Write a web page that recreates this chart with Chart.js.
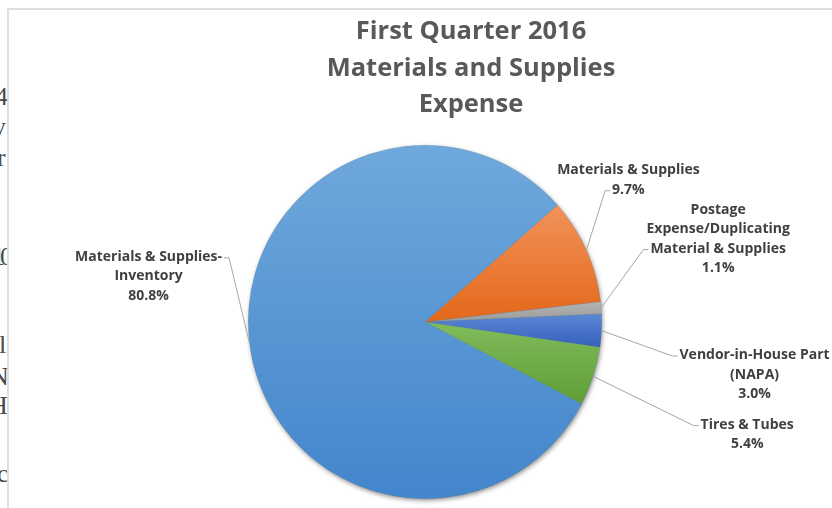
<!DOCTYPE html>
<html>
<head>
<meta charset="utf-8">
<title>First Quarter 2016 Materials and Supplies Expense</title>
<script src="https://cdn.jsdelivr.net/npm/chart.js@4.4.1/dist/chart.umd.min.js"></script>
<style>
html, body { margin: 0; padding: 0; background: #fff; }
body { width: 832px; height: 508px; position: relative; overflow: hidden; }
#docText { position: absolute; left: 0; top: 0; width: 7px; height: 508px; overflow: hidden;
  font-family: "Liberation Serif", serif; font-size: 26px; color: #4a4a4a; }
#docText span { position: absolute; white-space: nowrap; line-height: 30px; }
#frame { position: absolute; left: 7px; top: 8px; width: 900px; height: 600px;
  border: 2px solid #dedede; box-sizing: border-box; background: #fff; }
#wrap { position: absolute; left: 0; top: 0; width: 832px; height: 508px; }
</style>
</head>
<body>
<div id="docText">
  <span style="top:82px; left:-5px;">4</span>
  <span style="top:112px; left:-7px;">y</span>
  <span style="top:143px; left:-3px;">r</span>
  <span style="top:242px; left:-8px; letter-spacing:-5px;">10</span>
  <span style="top:330px; left:-1px;">ll</span>
  <span style="top:362px; left:-10px;">N</span>
  <span style="top:391px; left:-11px;">H</span>
  <span style="top:459px; left:-3px;">c</span>
</div>
<div id="frame"></div>
<div id="wrap"><canvas id="pieChart"></canvas></div>
<script>
// data
const categories = [
    'Materials & Supplies',
    'Postage Expense/Duplicating Material & Supplies',
    'Vendor-in-House Part (NAPA)',
    'Tires & Tubes',
    'Materials & Supplies-Inventory'
];
const percentValues = [9.7, 1.1, 3.0, 5.4, 80.8];
const labelLines = [
    ['Materials & Supplies'],
    ['Postage', 'Expense/Duplicating', 'Material & Supplies'],
    ['Vendor-in-House Part', '(NAPA)'],
    ['Tires & Tubes'],
    ['Materials & Supplies-', 'Inventory']
];
const titleLines = ['First Quarter 2016', 'Materials and Supplies', 'Expense'];

// styles
const fillTop = ['#f2925a', '#b4b4b4', '#5c87d4', '#80bc5b', '#6fa8dc'];
const fillBottom = ['#e3681a', '#9b9b9b', '#3560bd', '#5e9e36', '#4386cc'];
const startRotation = 48.5;

// label block offsets from the slice's edge point, and which line the leader attaches to
const labelLayout = [
    { dx: 42, dy: -70, attach: 1, side: 'left' },
    { dx: 117, dy: -69, attach: 2, side: 'left' },
    { dx: 153, dy: 44, attach: 0, side: 'left' },
    { dx: 154, dy: 58, attach: 0, side: 'left' },
    { dx: -101, dy: -67, attach: 0, side: 'right' }
];

const labelFont = 'bold 14px "Open Sans", sans-serif';
const titleFont = 'bold 25.5px "Open Sans", sans-serif';

function sliceFill(context) {
    const i = context.dataIndex;
    const chart = context.chart;
    const area = chart.chartArea;
    if (!area) return fillTop[i];
    const cx = (area.left + area.right) / 2;
    const cy = (area.top + area.bottom) / 2;
    const r = Math.min(area.width, area.height) / 2;
    const total = percentValues.reduce((a, b) => a + b, 0);
    const before = percentValues.slice(0, i).reduce((a, b) => a + b, 0);
    const start = -Math.PI / 2 + startRotation * Math.PI / 180 + 2 * Math.PI * before / total;
    const end = start + 2 * Math.PI * percentValues[i] / total;
    let ymin = cy, ymax = cy;
    for (let k = 0; k <= 48; k++) {
        const a = start + (end - start) * k / 48;
        const y = cy + r * Math.sin(a);
        ymin = Math.min(ymin, y);
        ymax = Math.max(ymax, y);
    }
    const g = chart.ctx.createLinearGradient(0, ymin, 0, ymax);
    g.addColorStop(0, fillTop[i]);
    g.addColorStop(1, fillBottom[i]);
    return g;
}

const pieShadow = {
    id: 'pieShadow',
    beforeDatasetsDraw(chart) {
        const arc = chart.getDatasetMeta(0).data[0];
        if (!arc) return;
        const ctx = chart.ctx;
        ctx.save();
        ctx.shadowColor = 'rgba(0,0,0,0.5)';
        ctx.shadowBlur = 5;
        ctx.shadowOffsetX = 1;
        ctx.shadowOffsetY = 2;
        ctx.beginPath();
        ctx.arc(arc.x, arc.y, arc.outerRadius - 0.5, 0, Math.PI * 2);
        ctx.fillStyle = '#5b9bd5';
        ctx.fill();
        ctx.restore();
    }
};

const chartTitle = {
    id: 'chartTitle',
    afterDraw(chart) {
        const ctx = chart.ctx;
        ctx.save();
        ctx.font = titleFont;
        ctx.fillStyle = '#595959';
        ctx.textAlign = 'center';
        ctx.textBaseline = 'middle';
        titleLines.forEach((t, k) => ctx.fillText(t, 471, 32 + k * 36.5));
        ctx.restore();
    }
};

const sliceLabels = {
    id: 'sliceLabels',
    afterDatasetsDraw(chart) {
        const ctx = chart.ctx;
        const meta = chart.getDatasetMeta(0);
        const lineH = 19.5;
        ctx.save();
        ctx.font = labelFont;
        ctx.textAlign = 'center';
        ctx.textBaseline = 'middle';
        meta.data.forEach((el, i) => {
            const p = el.getProps(['x', 'y', 'startAngle', 'endAngle', 'outerRadius'], true);
            const mid = (p.startAngle + p.endAngle) / 2;
            const ax = p.x + Math.cos(mid) * p.outerRadius;
            const ay = p.y + Math.sin(mid) * p.outerRadius;
            const lay = labelLayout[i];
            const bx = ax + lay.dx;
            const by = ay + lay.dy;
            const lines = labelLines[i].concat([percentValues[i].toFixed(1) + '%']);
            const y0 = by - (lines.length - 1) * lineH / 2;

            const ly = y0 + lay.attach * lineH + 1;
            const w = ctx.measureText(lines[lay.attach]).width;
            let endX, cornerX;
            if (lay.side === 'left') {
                endX = bx - w / 2 - 2;
                cornerX = endX - 5;
            } else {
                endX = bx + w / 2 + 2;
                cornerX = endX + 5;
            }
            ctx.strokeStyle = '#a6a6a6';
            ctx.lineWidth = 1;
            ctx.beginPath();
            ctx.moveTo(ax, ay);
            ctx.lineTo(cornerX, ly);
            ctx.lineTo(endX, ly);
            ctx.stroke();

            ctx.fillStyle = '#404040';
            lines.forEach((t, k) => ctx.fillText(t, bx, y0 + k * lineH));
        });
        ctx.restore();
    }
};

const ctx = document.getElementById('pieChart').getContext('2d');

const pieChart = new Chart(ctx, {
    type: 'pie',
    data: {
        labels: categories,
        datasets: [{
            data: percentValues,
            backgroundColor: sliceFill,
            borderColor: 'rgba(110,110,110,0.35)',
            borderWidth: 0.5
        }]
    },
    options: {
        responsive: true,
        maintainAspectRatio: false,
        animation: false,
        rotation: startRotation,
        layout: { padding: { top: 145, bottom: 9, left: 240, right: 222 } },
        plugins: {
            legend: { display: false },
            title: { display: false },
            tooltip: { enabled: false }
        }
    },
    plugins: [pieShadow, sliceLabels, chartTitle]
});
</script>
</body>
</html>
